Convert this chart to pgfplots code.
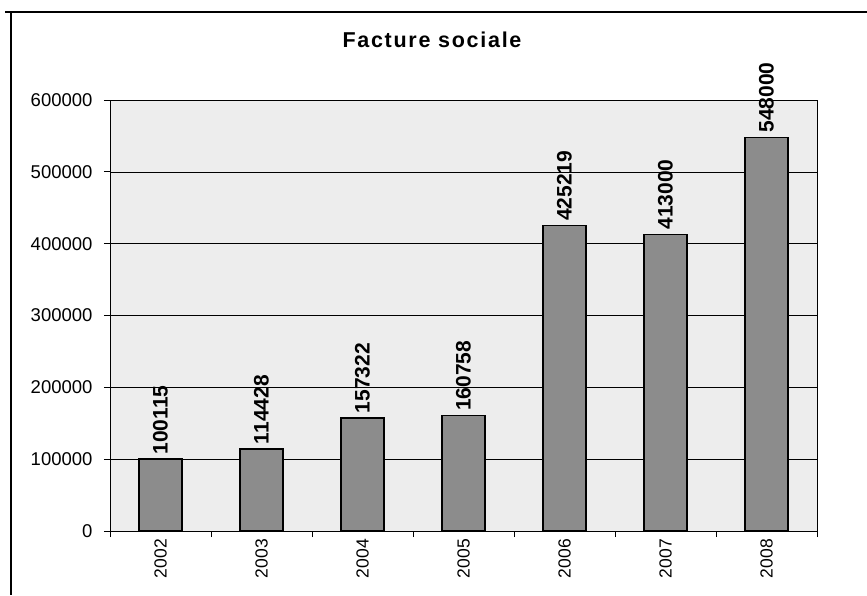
\documentclass[border=0pt]{standalone}
\usepackage{fontspec}
\setmainfont{Liberation Sans}
\usepackage{pgfplots}
\pgfplotsset{compat=1.18}
\begin{document}
\begin{tikzpicture}[x=1pt,y=1pt]
\useasboundingbox (0,0) rectangle (867,595);
\draw[line width=1.2pt] (5,583) -- (867,583);
\draw[line width=1.2pt] (11,583) -- (11,0);
\node[font=\fontsize{21.5}{24}\selectfont\bfseries\addfontfeatures{LetterSpace=8}] at (432,555) {Facture sociale};
\begin{axis}[
  at={(110pt,64pt)}, anchor=south west,
  scale only axis, width=707pt, height=431pt,
  xmin=-0.5, xmax=6.5, ymin=0, ymax=600000,
  clip=false,
  axis background/.style={fill=black!7},
  axis line style={black, line width=0.8pt},
  xtick={0,1,2,3,4,5,6},
  xticklabels={2002,2003,2004,2005,2006,2007,2008},
  minor xtick={-0.5,0.5,1.5,2.5,3.5,4.5,5.5,6.5},
  major x tick style={draw=none},
  minor x tick style={black, line width=0.8pt},
  minor tick length=6pt,
  x tick label style={rotate=90, anchor=east, font=\fontsize{17.5}{18}\selectfont, inner sep=2pt},
  ytick={0,100000,200000,300000,400000,500000,600000},
  scaled y ticks=false,
  y tick label style={/pgf/number format/fixed, /pgf/number format/1000 sep={}, font=\fontsize{18.5}{20}\selectfont, xshift=-8pt},
  /pgf/number format/assume math mode=true,
  y tick style={black, line width=0.8pt},
  major tick length=6pt,
  tick align=outside,
  xtick pos=bottom, ytick pos=left,
  ymajorgrids,
  major grid style={black, line width=0.6pt},
  ybar, bar width=43pt,
  point meta=explicit symbolic,
  nodes near coords,
  nodes near coords style={rotate=90, anchor=west, font=\fontsize{21}{22}\selectfont\bfseries, inner sep=4pt},
]
\addplot[draw=black, line width=1.4pt, fill=black!45] coordinates {
  (0,100115) [100115]
  (1,114428) [114428]
  (2,157322) [157322]
  (3,160758) [160758]
  (4,425219) [425219]
  (5,413000) [413000]
  (6,548000) [548000]
};
\end{axis}
\end{tikzpicture}
\end{document}
